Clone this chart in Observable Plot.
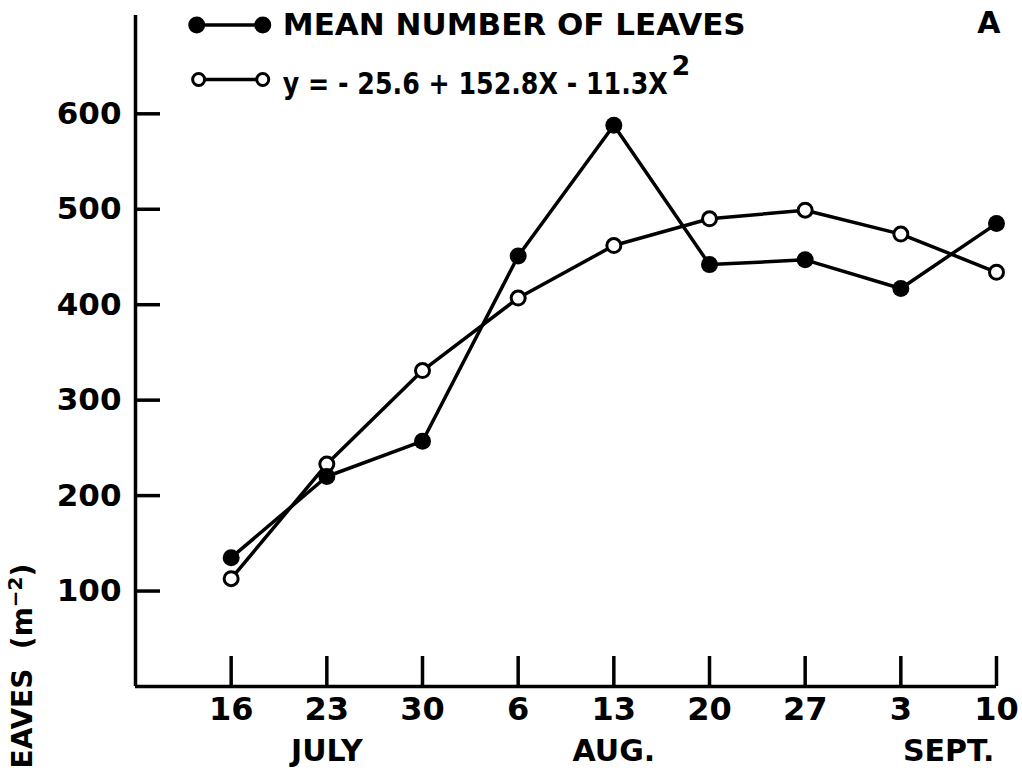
<!DOCTYPE html>
<html><head><meta charset="utf-8">
<script src="https://cdn.jsdelivr.net/npm/d3@7"></script>
<script src="https://cdn.jsdelivr.net/npm/@observablehq/plot@0.6"></script>
<style>html,body{margin:0;background:#fff;overflow:hidden} svg{font-family:"DejaVu Sans";}</style>
</head><body><div id="chart"></div>
<script>
// Sampling dates (index 1..9)
const dates = ["16","23","30","6","13","20","27","3","10"];
const meanLeaves = [135, 220, 257, 451, 588, 442, 447, 417, 485];
const fitted = [113, 233, 331, 407, 462, 490, 499, 474, 434];
const yTicks = [100, 200, 300, 400, 500, 600];
const months = ["JULY", "AUG.", "SEPT."];
const monthAt = [2, 5, 8.5];
const legendLabels = ["MEAN NUMBER OF LEAVES", "y = - 25.6 + 152.8X - 11.3X"];
const legendSup = "2";
const panelLetter = "A";
const yTitle = "EAVES  (m";
const yTitleSup = "\u22122";

const rows = dates.map((d, i) => ({i: i + 1, date: d, mean: meanLeaves[i], fit: fitted[i]}));
const monthRows = months.map((m, k) => ({m, at: monthAt[k]}));
const font = {fontFamily: "DejaVu Sans", fontWeight: "bold", fill: "black"};

const chart = Plot.plot({
  width: 1022, height: 770,
  marginLeft: 135, marginRight: 26, marginTop: 15, marginBottom: 84,
  x: {domain: [0, 9], axis: null},
  y: {domain: [0, 703], axis: null},
  style: {background: "white", overflow: "visible"},
  marks: [
    Plot.ruleX([0], {stroke: "black", strokeWidth: 3.5}),
    Plot.ruleY([0], {stroke: "black", strokeWidth: 3.5}),
    Plot.axisY(yTicks, {anchor: "left", tickSize: 25, dx: 25, text: null, label: null, strokeWidth: 3.5}),
    Plot.axisY(yTicks, {anchor: "left", tickSize: 0, tickPadding: 14, label: null, fontSize: 31, ...font}),
    Plot.axisX(d3.range(1, 10), {anchor: "bottom", tickSize: 30, dy: -30, text: null, label: null, strokeWidth: 3.5}),
    Plot.axisX(d3.range(1, 10), {anchor: "bottom", tickSize: 0, tickPadding: 11, label: null, tickFormat: i => dates[i - 1], fontSize: 32, ...font}),
    Plot.text(monthRows, {x: "at", frameAnchor: "bottom", text: "m", dy: 74, fontSize: 30, ...font}),
    Plot.line(rows, {x: "i", y: "fit", stroke: "black", strokeWidth: 3.5}),
    Plot.line(rows, {x: "i", y: "mean", stroke: "black", strokeWidth: 3.5}),
    Plot.dot(rows, {x: "i", y: "fit", r: 7, fill: "white", stroke: "black", strokeWidth: 3}),
    Plot.dot(rows, {x: "i", y: "mean", r: 8.5, fill: "black", stroke: "none"}),
    // legend
    Plot.link([0, 1], {x1: () => 0.64, x2: () => 1.33, y1: k => k === 0 ? 693 : 636, y2: k => k === 0 ? 693 : 636, stroke: "black", strokeWidth: 3.5}),
    Plot.dot([0, 0], {x: (d, j) => j === 0 ? 0.64 : 1.33, y: () => 693, r: 8.5, fill: "black"}),
    Plot.dot([0, 0], {x: (d, j) => j === 0 ? 0.66 : 1.33, y: () => 636, r: 6, fill: "white", stroke: "black", strokeWidth: 3}),
    Plot.text(legendLabels, {x: () => 1.54, y: (d, j) => j === 0 ? 693 : 631, text: d => d, textAnchor: "start", fontSize: 31, ...font}),
    Plot.text([legendSup], {frameAnchor: "top-left", dx: 536, dy: 40, text: d => d, textAnchor: "start", fontSize: 27, ...font}),
    Plot.text([panelLetter], {frameAnchor: "top-right", dx: 4, dy: -4, text: d => d, fontSize: 30, ...font}),
    // y title (cut off at the bottom in the original)
    Plot.text([yTitle], {frameAnchor: "bottom-left", dx: -104, dy: 82, rotate: -90, textAnchor: "start", text: d => d, fontSize: 28, ...font})
  ]
});
// compress the fitted-equation legend to its printed width
d3.select(chart).selectAll("text")
  .filter(function() { return this.textContent === legendLabels[1]; })
  .attr("textLength", 385).attr("lengthAdjust", "spacingAndGlyphs");
// superscript and closing bracket for the y title
d3.select(chart).selectAll("text")
  .filter(function() { return this.textContent === yTitle; })
  .each(function() {
    const t = d3.select(this);
    t.append("tspan").attr("dy", -10).attr("font-size", 20).text(yTitleSup);
    t.append("tspan").attr("dy", 10).text(")");
  });
document.getElementById("chart").append(chart);
</script></body></html>
